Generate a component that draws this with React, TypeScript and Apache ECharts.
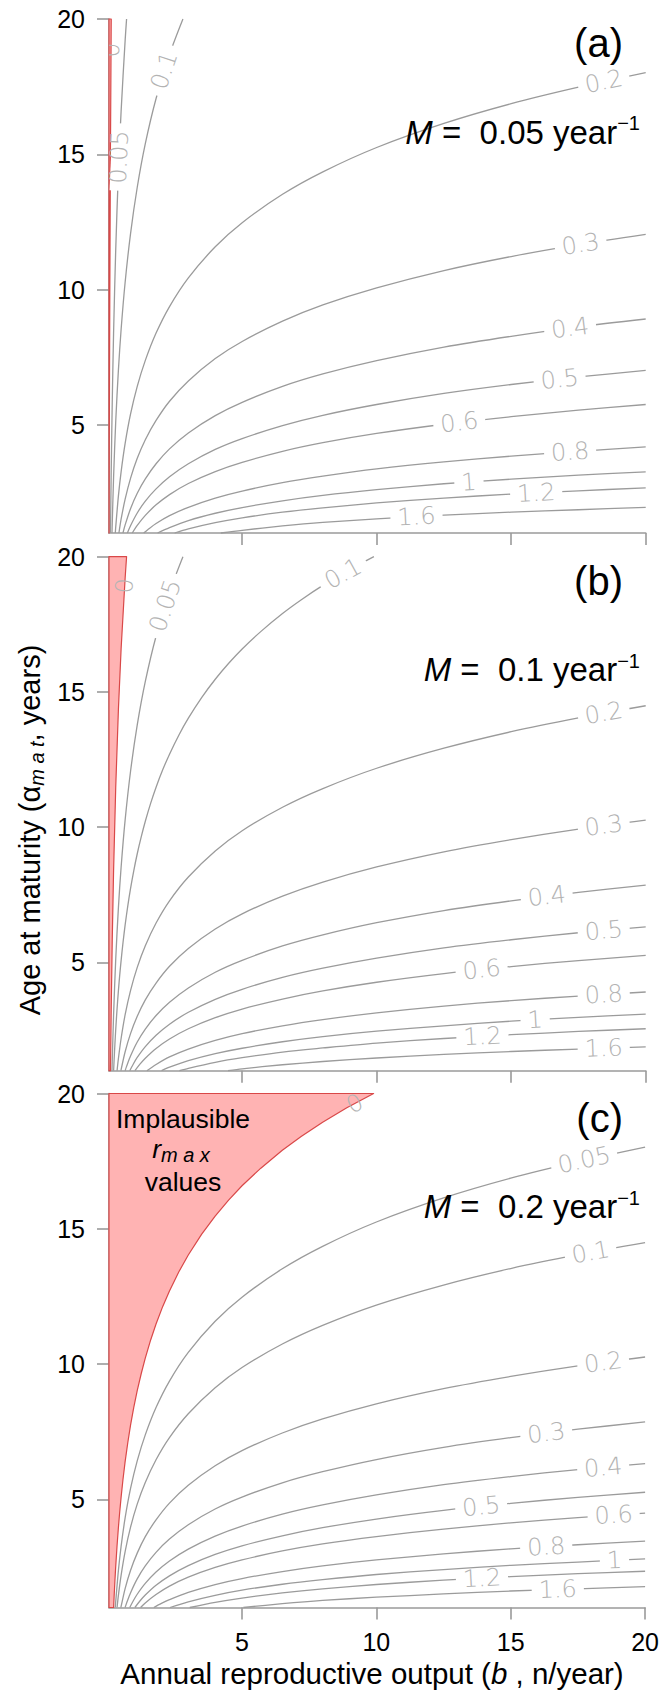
import React, { useEffect, useRef } from "react";
import * as echarts from "echarts";

const WIDTH = 662;
const HEIGHT = 1693;
const FONT = "'Liberation Sans', Arial, Helvetica, sans-serif";
const LABEL_FONT = "'DejaVu Sans', 'Liberation Sans', sans-serif";

const X_MIN = 0.05;
const X_MAX = 20;
const Y_MIN = 1;
const Y_MAX = 20;
const X_TICKS = [5, 10, 15, 20];
const Y_TICKS = [5, 10, 15, 20];

const PANEL_TAGS = ["(a)", "(b)", "(c)"];
const MORTALITY = ["0.05", "0.1", "0.2"];
const LEVELS = ["0", "0.05", "0.1", "0.2", "0.3", "0.4", "0.5", "0.6", "0.8", "1", "1.2", "1.6"];

// contour traces: [b, age at maturity]
const K005 = [[0.0513, 1], [0.06, 4.14], [0.08, 9.9], [0.1, 14.36], [0.13, 19.61], [0.1326, 20]];
const K010 = [[0.1052, 1], [0.13, 3.12], [0.17, 5.8], [0.22, 8.38], [0.3, 11.48], [0.4, 14.36], [0.5, 16.59], [0.65, 19.21], [0.7032, 20]];
const K015 = [[0.1618, 1], [0.17, 1.33], [0.22, 3.05], [0.3, 5.12], [0.4, 7.03], [0.5, 8.52], [0.65, 10.27], [0.85, 12.06], [1.1, 13.78], [1.4, 15.39], [1.8, 17.06], [2.3, 18.69], [2.798, 20]];
const K020 = [
  [0.2214, 1], [0.24, 1.4], [0.27, 1.99], [0.3, 2.52], [0.35, 3.29], [0.4, 3.96], [0.45, 4.55], [0.5, 5.07],
  [0.57, 5.73], [0.65, 6.39], [0.75, 7.1], [0.85, 7.73], [0.97, 8.39], [1.1, 9.02], [1.25, 9.65], [1.4, 10.22],
  [1.6, 10.89], [1.8, 11.48], [2.05, 12.13], [2.3, 12.7], [2.65, 13.41], [3, 14.03], [3.5, 14.8], [4, 15.47],
  [4.5, 16.06], [5, 16.59], [5.7, 17.24], [6.5, 17.9], [7.2, 18.41], [8, 18.94], [8.9, 19.47], [9.897, 20],
];
const K025 = [[0.284, 1], [0.3, 1.22], [0.4, 2.37], [0.5, 3.26], [0.65, 4.31], [0.85, 5.39], [1.1, 6.42], [1.4, 7.38], [1.8, 8.39], [2.3, 9.37], [3, 10.43], [4, 11.58], [5, 12.47], [6.5, 13.52], [8, 14.35], [10, 15.25], [12.5, 16.14], [15, 16.87], [17.5, 17.48], [20, 18.02]];
const K030 = [[0.3499, 1], [0.4, 1.45], [0.5, 2.19], [0.65, 3.07], [0.85, 3.96], [1.1, 4.82], [1.4, 5.62], [1.8, 6.46], [2.3, 7.28], [3, 8.16], [4, 9.12], [5, 9.87], [6.5, 10.74], [8, 11.43], [10, 12.18], [12.5, 12.92], [15, 13.53], [17.5, 14.04], [20, 14.49]];
const K035 = [[0.4191, 1], [0.5, 1.51], [0.65, 2.25], [0.85, 3.02], [1.1, 3.76], [1.4, 4.45], [1.8, 5.16], [2.3, 5.87], [3, 6.62], [4, 7.45], [5, 8.08], [6.5, 8.83], [8, 9.43], [10, 10.06], [12.5, 10.7], [15, 11.22], [17.5, 11.66], [20, 12.04]];
const K040 = [[0.4918, 1], [0.5, 1.04], [0.65, 1.7], [0.85, 2.37], [1.1, 3.01], [1.4, 3.62], [1.8, 4.24], [2.3, 4.86], [3, 5.52], [4, 6.24], [5, 6.8], [6.5, 7.45], [8, 7.97], [10, 8.53], [12.5, 9.09], [15, 9.54], [17.5, 9.93], [20, 10.26]];
const K045 = [[0.5683, 1], [0.65, 1.3], [0.85, 1.9], [1.1, 2.47], [1.4, 3.0], [1.8, 3.56], [2.3, 4.11], [3, 4.7], [4, 5.34], [5, 5.83], [6.5, 6.42], [8, 6.88], [10, 7.37], [12.5, 7.87], [15, 8.27], [17.5, 8.62], [20, 8.91]];
const K050 = [[0.6487, 1], [0.7, 1.15], [0.85, 1.54], [1.1, 2.06], [1.4, 2.54], [1.8, 3.04], [2.3, 3.53], [3, 4.06], [4, 4.64], [5, 5.08], [6.5, 5.61], [8, 6.02], [10, 6.47], [12.5, 6.92], [15, 7.28], [17.5, 7.59], [20, 7.86]];
const K055 = [[0.7333, 1], [0.85, 1.27], [1.1, 1.74], [1.4, 2.18], [1.8, 2.63], [2.3, 3.08], [3, 3.56], [4, 4.09], [5, 4.49], [6.5, 4.97], [8, 5.35], [10, 5.75], [12.5, 6.16], [15, 6.49], [17.5, 6.77], [20, 7.01]];
const K060 = [[0.8221, 1], [0.95, 1.24], [1.1, 1.49], [1.4, 1.89], [1.8, 2.31], [2.3, 2.72], [3, 3.16], [4, 3.64], [5, 4.01], [6.5, 4.45], [8, 4.79], [10, 5.16], [12.5, 5.54], [15, 5.84], [17.5, 6.1], [20, 6.32]];
const K065 = [[0.9155, 1], [1.1, 1.28], [1.4, 1.65], [1.8, 2.04], [2.3, 2.42], [3, 2.83], [4, 3.27], [5, 3.61], [6.5, 4.02], [8, 4.34], [10, 4.68], [12.5, 5.02], [15, 5.3], [17.5, 5.54], [20, 5.75]];
const K070 = [[1.0138, 1], [1.2, 1.24], [1.4, 1.46], [1.8, 1.82], [2.3, 2.17], [3, 2.55], [4, 2.96], [5, 3.28], [6.5, 3.65], [8, 3.95], [10, 4.27], [12.5, 4.59], [15, 4.85], [17.5, 5.07], [20, 5.26]];
const K080 = [[1.2255, 1], [1.4, 1.17], [1.8, 1.48], [2.3, 1.79], [3, 2.12], [4, 2.48], [5, 2.76], [6.5, 3.09], [8, 3.35], [10, 3.62], [12.5, 3.9], [15, 4.13], [17.5, 4.32], [20, 4.49]];
const K085 = [[1.3396, 1], [1.5, 1.13], [1.8, 1.35], [2.3, 1.64], [3, 1.95], [4, 2.29], [5, 2.55], [6.5, 2.86], [8, 3.1], [10, 3.37], [12.5, 3.63], [15, 3.84], [17.5, 4.02], [20, 4.18]];
const K090 = [[1.4596, 1], [1.8, 1.23], [2.3, 1.51], [3, 1.8], [4, 2.12], [5, 2.37], [6.5, 2.66], [8, 2.89], [10, 3.14], [12.5, 3.39], [15, 3.59], [17.5, 3.76], [20, 3.91]];
const K100 = [[1.7183, 1], [2, 1.15], [2.3, 1.29], [3, 1.56], [4, 1.85], [5, 2.07], [6.5, 2.33], [8, 2.54], [10, 2.76], [12.5, 2.98], [15, 3.17], [17.5, 3.32], [20, 3.45]];
const K105 = [[1.8577, 1], [2.3, 1.2], [3, 1.46], [4, 1.73], [5, 1.94], [6.5, 2.19], [8, 2.39], [10, 2.6], [12.5, 2.82], [15, 2.99], [17.5, 3.14], [20, 3.26]];
const K110 = [[2.0042, 1], [2.3, 1.13], [3, 1.37], [4, 1.63], [5, 1.83], [6.5, 2.07], [8, 2.26], [10, 2.46], [12.5, 2.66], [15, 2.83], [17.5, 2.97], [20, 3.09]];
const K120 = [[2.3201, 1], [3, 1.21], [4, 1.45], [5, 1.64], [6.5, 1.86], [8, 2.03], [10, 2.22], [12.5, 2.4], [15, 2.56], [17.5, 2.68], [20, 2.8]];
const K125 = [[2.4903, 1], [3, 1.15], [4, 1.38], [5, 1.56], [6.5, 1.77], [8, 1.93], [10, 2.11], [12.5, 2.29], [15, 2.44], [17.5, 2.56], [20, 2.67]];
const K130 = [[2.6693, 1], [3, 1.09], [4, 1.31], [5, 1.48], [6.5, 1.69], [8, 1.84], [10, 2.02], [12.5, 2.19], [15, 2.33], [17.5, 2.45], [20, 2.55]];
const K140 = [[3.0552, 1], [4, 1.19], [5, 1.35], [6.5, 1.54], [8, 1.69], [10, 1.85], [12.5, 2.01], [15, 2.14], [17.5, 2.25], [20, 2.34]];
const K165 = [[4.207, 1], [5, 1.1], [6.5, 1.26], [8, 1.39], [10, 1.52], [12.5, 1.66], [15, 1.77], [17.5, 1.86], [20, 1.95]];
const K170 = [[4.4739, 1], [5, 1.07], [6.5, 1.22], [8, 1.34], [10, 1.47], [12.5, 1.6], [15, 1.71], [17.5, 1.8], [20, 1.88]];
const K180 = [[5.0496, 1], [6.5, 1.14], [8, 1.26], [10, 1.38], [12.5, 1.5], [15, 1.61], [17.5, 1.69], [20, 1.77]];

const PANEL_A_CURVES = [K005, K010, K015, K025, K035, K045, K055, K065, K085, K105, K125, K165];
const PANEL_B_CURVES = [K010, K015, K020, K030, K040, K050, K060, K070, K090, K110, K130, K170];
const PANEL_C_CURVES = [K020, K025, K030, K040, K050, K060, K070, K080, K100, K120, K140, K180];

// contour label anchors: [b, age, b (direction), age (direction)]
const PANEL_A_LABELS = [
  [0.1252, 18.85, 0.1377, 20.76], [0.422, 14.9, 0.4642, 15.85], [2.1, 18.1, 2.31, 18.74],
  [18.44, 17.69, 20.28, 18.07], [17.58, 11.68, 19.34, 11.95], [17.19, 8.58, 18.91, 8.79],
  [16.8, 6.69, 18.48, 6.86], [13.07, 5.09, 14.38, 5.24], [17.19, 4.0, 18.91, 4.11],
  [13.43, 2.88, 14.77, 2.97], [15.93, 2.48, 17.52, 2.56], [11.48, 1.61, 12.63, 1.67],
];
const PANEL_B_LABELS = [
  [0.631, 18.92, 0.694, 19.87], [2.14, 18.19, 2.354, 18.83], [8.75, 19.38, 9.625, 19.86],
  [18.44, 14.22, 20.28, 14.54], [18.44, 10.06, 20.28, 10.3], [16.32, 7.45, 17.95, 7.64],
  [18.44, 6.18, 20.28, 6.34], [13.9, 4.74, 15.29, 4.88], [18.44, 3.82, 20.28, 3.93],
  [15.89, 2.88, 17.48, 2.97], [13.93, 2.27, 15.32, 2.34], [18.44, 1.83, 20.28, 1.89],
];
const PANEL_C_LABELS = [
  [9.2, 19.63, 10.12, 20.11], [17.73, 17.54, 19.5, 17.92], [17.97, 14.13, 19.77, 14.45],
  [18.44, 10.06, 20.28, 10.3], [16.32, 7.45, 17.95, 7.64], [18.44, 6.18, 20.28, 6.34],
  [13.9, 4.74, 15.29, 4.88], [18.83, 4.42, 20.71, 4.53], [16.32, 3.25, 17.95, 3.35],
  [18.86, 2.75, 20.75, 2.83], [13.93, 2.08, 15.32, 2.15], [16.75, 1.67, 18.43, 1.72],
];

const PANEL_CURVES = [PANEL_A_CURVES, PANEL_B_CURVES, PANEL_C_CURVES];
const PANEL_LABELS = [PANEL_A_LABELS, PANEL_B_LABELS, PANEL_C_LABELS];

const GRID_LEFT = 109;
const GRID_WIDTH = 536.7;
const GRID_HEIGHT = 514;
const GRID_TOPS = [19, 556.7, 1093.5];

const AXIS_GREY = "#9a9a9a";
const LINE_GREY = "#9b9b9b";
const LABEL_GREY = "#b3b3b3";
const ZERO_RED = "#d94848";
const FILL_PINK = "#ffb3b3";

function buildOption() {
  const grids: any[] = [];
  const xAxes: any[] = [];
  const yAxes: any[] = [];
  const series: any[] = [];
  const graphics: any[] = [];

  for (let p = 0; p < 3; p++) {
    grids.push({ left: GRID_LEFT, top: GRID_TOPS[p], width: GRID_WIDTH, height: GRID_HEIGHT });
    xAxes.push({
      type: "value",
      gridIndex: p,
      min: X_MIN,
      max: X_MAX,
      axisLine: { show: true, onZero: false, lineStyle: { color: AXIS_GREY, width: 1.6 } },
      axisTick: { show: true, length: 12, customValues: X_TICKS, lineStyle: { color: AXIS_GREY, width: 1.6 } },
      axisLabel: {
        show: p === 2,
        customValues: X_TICKS,
        margin: 21,
        color: "#000",
        fontSize: 25,
        lineHeight: 26,
        fontFamily: FONT,
        showMaxLabel: true,
        showMinLabel: true,
      },
      splitLine: { show: false },
    });
    yAxes.push({
      type: "value",
      gridIndex: p,
      min: Y_MIN,
      max: Y_MAX,
      axisLine: { show: true, onZero: false, lineStyle: { color: AXIS_GREY, width: 1.6 } },
      axisTick: { show: true, length: 12, customValues: Y_TICKS, lineStyle: { color: AXIS_GREY, width: 1.6 } },
      axisLabel: {
        show: true,
        customValues: Y_TICKS,
        margin: 24,
        color: "#000",
        fontSize: 25,
        lineHeight: 26,
        fontFamily: FONT,
        showMaxLabel: true,
      },
      splitLine: { show: false },
    });

    const curves = PANEL_CURVES[p];
    const zero = curves[0];

    // implausible region (left of the zero contour)
    series.push({
      type: "custom",
      xAxisIndex: p,
      yAxisIndex: p,
      clip: false,
      silent: true,
      z: 3,
      data: [[X_MIN, Y_MIN]],
      renderItem: (params: any, api: any) => {
        const pts = zero.map((pt) => api.coord(pt));
        pts.push(api.coord([X_MIN, Y_MAX]));
        pts.push(api.coord([X_MIN, Y_MIN]));
        return {
          type: "polygon",
          shape: { points: pts },
          style: { fill: FILL_PINK, stroke: ZERO_RED, lineWidth: 1.2, lineJoin: "round" },
        };
      },
    });

    curves.forEach((curve, i) => {
      if (i === 0) return;
      series.push({
        type: "line",
        xAxisIndex: p,
        yAxisIndex: p,
        data: curve,
        showSymbol: false,
        symbol: "none",
        smooth: 0.3,
        clip: false,
        silent: true,
        z: 2,
        lineStyle: { color: LINE_GREY, width: 1.3 },
      });
    });

    const labels = PANEL_LABELS[p];
    series.push({
      type: "custom",
      xAxisIndex: p,
      yAxisIndex: p,
      clip: true,
      silent: true,
      z: 5,
      data: labels,
      renderItem: (params: any, api: any) => {
        const i = params.dataIndex;
        const p1 = api.coord([api.value(0), api.value(1)]);
        const p2 = api.coord([api.value(2), api.value(3)]);
        const ang = Math.atan2(p1[1] - p2[1], p2[0] - p1[0]);
        return {
          type: "text",
          x: p1[0],
          y: p1[1],
          rotation: ang,
          style: {
            text: LEVELS[i],
            fontSize: 24,
            fontFamily: LABEL_FONT,
            fontWeight: 200,
            fill: LABEL_GREY,
            align: "center",
            verticalAlign: "middle",
            backgroundColor: i === 0 ? "transparent" : "#ffffff",
            padding: [0, 7],
            lineHeight: 16,
          },
        };
      },
    });

    // panel tag
    graphics.push({
      type: "text",
      z: 100,
      x: 623,
      y: GRID_TOPS[p] + 24,
      style: {
        text: PANEL_TAGS[p],
        fontSize: 40,
        fontFamily: FONT,
        fill: "#000",
        align: "right",
        verticalAlign: "middle",
      },
    });
    // mortality label
    graphics.push({
      type: "text",
      z: 100,
      x: 640,
      y: GRID_TOPS[p] + 113,
      style: {
        text: `{i|M}{n| =\u00a0\u00a0${MORTALITY[p]} year}{s|\u22121}`,
        align: "right",
        verticalAlign: "middle",
        fill: "#000",
        fontFamily: FONT,
        rich: {
          i: { fontSize: 33, fontStyle: "italic", fontFamily: FONT, fill: "#000", lineHeight: 38 },
          n: { fontSize: 33, fontFamily: FONT, fill: "#000", lineHeight: 38 },
          s: { fontSize: 20, fontFamily: FONT, fill: "#000", lineHeight: 14, verticalAlign: "top" },
        },
      },
    });
  }

  // implausible text in panel (c)
  const cTop = GRID_TOPS[2];
  graphics.push({
    type: "text",
    z: 100,
    x: 183,
    y: cTop + 25,
    style: { text: "Implausible", fontSize: 26.5, fontFamily: FONT, fill: "#000", align: "center", verticalAlign: "middle" },
  });
  graphics.push({
    type: "text",
    z: 100,
    x: 181,
    y: cTop + 55,
    style: {
      text: "{i|r}{s|m a x}",
      align: "center",
      verticalAlign: "middle",
      rich: {
        i: { fontSize: 26.5, fontStyle: "italic", fontFamily: FONT, fill: "#000", lineHeight: 32 },
        s: { fontSize: 20, fontStyle: "italic", fontFamily: FONT, fill: "#000", lineHeight: 14, verticalAlign: "bottom" },
      },
    },
  });
  graphics.push({
    type: "text",
    z: 100,
    x: 183,
    y: cTop + 88,
    style: { text: "values", fontSize: 26.5, fontFamily: FONT, fill: "#000", align: "center", verticalAlign: "middle" },
  });

  // axis titles
  graphics.push({
    type: "text",
    z: 100,
    x: 372,
    y: 1673,
    style: {
      text: "{n|Annual reproductive output (}{i|b}{n|\u00a0, n/year)}",
      align: "center",
      verticalAlign: "middle",
      rich: {
        n: { fontSize: 29.5, fontFamily: FONT, fill: "#000", lineHeight: 30 },
        i: { fontSize: 29.5, fontStyle: "italic", fontFamily: FONT, fill: "#000", lineHeight: 30 },
      },
    },
  });
  graphics.push({
    type: "text",
    z: 100,
    x: 30,
    y: 830,
    rotation: Math.PI / 2,
    style: {
      text: "{n|Age at maturity (\u03b1}{s|m a t}{n|, years)}",
      align: "center",
      verticalAlign: "middle",
      rich: {
        n: { fontSize: 29, fontFamily: FONT, fill: "#000", lineHeight: 34 },
        s: { fontSize: 20, fontStyle: "italic", fontFamily: FONT, fill: "#000", lineHeight: 14, verticalAlign: "bottom" },
      },
    },
  });

  return {
    animation: false,
    backgroundColor: "#ffffff",
    grid: grids,
    xAxis: xAxes,
    yAxis: yAxes,
    series,
    graphic: { elements: graphics },
  };
}

export default function App() {
  const ref = useRef<HTMLDivElement>(null);
  useEffect(() => {
    document.body.style.margin = "0";
    if (!ref.current) return;
    const chart = echarts.init(ref.current, undefined, { renderer: "svg" });
    chart.setOption(buildOption() as any);
    return () => {
      chart.dispose();
    };
  }, []);
  return <div ref={ref} style={{ width: WIDTH, height: HEIGHT }} />;
}
